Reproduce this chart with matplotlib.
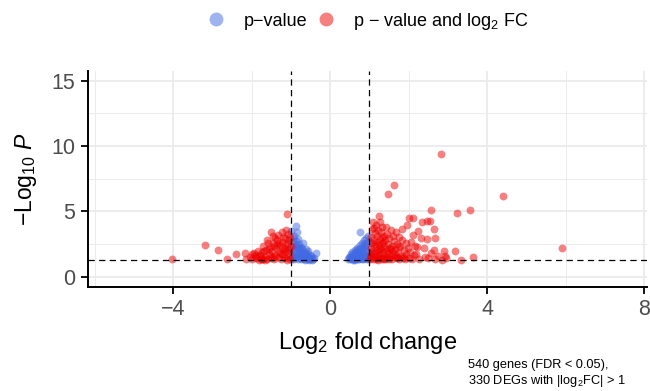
import matplotlib.pyplot as plt
import numpy as np
from matplotlib.lines import Line2D

# 字体设置（类似 Helvetica）
plt.rcParams['font.family'] = ['Liberation Sans', 'DejaVu Sans']
plt.rcParams['mathtext.fontset'] = 'custom'
plt.rcParams['mathtext.rm'] = 'Liberation Sans'
plt.rcParams['mathtext.it'] = 'Liberation Sans:italic'

# 下调基因 log2FC < -1
down_lfc = [-2.15, -2.05, -1.98, -1.92, -1.88, -1.82, -1.78, -1.74, -1.70, -1.66, -1.63, -1.60,
            -1.57, -1.54, -1.51, -1.48, -1.45, -1.43, -1.40, -1.38, -1.36, -1.34, -1.32, -1.30,
            -1.28, -1.26, -1.24, -1.22, -1.20, -1.18, -1.16, -1.15, -1.13, -1.11, -1.10, -1.08,
            -1.07, -1.05, -1.04, -1.02, -1.01, -1.95, -1.85, -1.72, -1.58, -1.46, -1.42, -1.27,
            -1.19, -1.12, -1.06, -1.03, -1.65, -1.52, -1.35, -1.24, -1.14, -1.89, -2.00, -1.77,
            -1.69, -1.56, -1.44, -1.31, -1.21, -1.09, -1.60, -1.40, -1.79, -1.75,
            -1.09, -1.51, -2.17, -2.39, -2.62, -2.86, -3.19, -4.03]
down_nlp = [1.38, 1.52, 1.36, 1.70, 1.45, 1.33, 1.62, 1.88, 1.41, 1.55, 2.05, 1.34,
            1.78, 2.30, 1.47, 1.95, 2.62, 1.36, 1.68, 2.18, 2.85, 1.50, 3.20, 1.92,
            2.45, 1.38, 2.70, 1.72, 3.05, 2.25, 1.45, 2.95, 1.98, 2.55, 1.33, 3.30,
            1.62, 2.10, 2.80, 1.40, 2.40, 1.85, 2.02, 2.35, 2.58, 3.10, 1.55, 1.85,
            1.52, 3.55, 1.85, 3.05, 1.32, 1.62, 2.42, 3.40, 2.15, 1.55, 1.72, 1.38,
            1.95, 2.12, 2.35, 2.62, 2.05, 2.62, 2.80, 3.00, 1.68, 1.35,
            4.81, 3.46, 1.81, 1.73, 1.35, 2.06, 2.44, 1.35]

# 左侧 -1 < log2FC < 0
left_lfc = [-0.98, -0.97, -0.96, -0.95, -0.93, -0.92, -0.91, -0.90, -0.88, -0.87, -0.86, -0.85,
            -0.84, -0.82, -0.81, -0.80, -0.79, -0.77, -0.76, -0.75, -0.73, -0.72, -0.70, -0.69,
            -0.67, -0.66, -0.64, -0.62, -0.60, -0.58, -0.56, -0.54, -0.52, -0.50, -0.48, -0.45,
            -0.42, -0.35, -0.94, -0.89, -0.83, -0.78, -0.71, -0.65, -0.57, -0.99, -0.97, -0.74,
            -0.63, -0.53, -0.92, -0.86, -0.80, -0.74, -0.68, -0.61, -0.55, -0.47]
left_nlp = [1.40, 2.10, 2.65, 1.65, 3.10, 1.35, 2.40, 1.85, 3.92, 2.75, 1.50, 2.20,
            3.40, 2.88, 1.38, 1.95, 2.50, 1.60, 2.30, 1.34, 2.05, 1.75, 1.45, 2.60,
            1.90, 1.36, 1.62, 2.15, 1.40, 1.80, 1.52, 1.33, 1.68, 1.42, 1.58, 1.36,
            1.48, 1.81, 2.95, 1.52, 1.72, 1.44, 2.18, 1.78, 1.96, 3.50, 1.55, 1.55,
            1.32, 1.38, 2.05, 2.45, 2.20, 1.85, 1.55, 1.70, 1.45, 1.32]

# 右侧 0 < log2FC < 1
right_lfc = [0.45, 0.48, 0.50, 0.52, 0.54, 0.56, 0.58, 0.60, 0.62, 0.63, 0.65, 0.67,
             0.68, 0.70, 0.72, 0.73, 0.75, 0.76, 0.77, 0.78, 0.80, 0.81, 0.82, 0.84,
             0.85, 0.87, 0.88, 0.89, 0.90, 0.91, 0.92, 0.93, 0.94, 0.95, 0.96, 0.97,
             0.98, 0.99, 0.55, 0.66, 0.74, 0.83, 0.86, 0.71, 0.61, 0.79, 0.95, 0.64,
             0.57, 0.69, 0.90, 0.84, 0.78, 0.72, 0.66, 0.59, 0.51]
right_nlp = [1.38, 1.55, 1.35, 1.72, 1.45, 1.90, 1.33, 1.62, 2.05, 1.40, 1.80, 2.25,
             1.52, 1.36, 2.10, 1.70, 2.45, 1.45, 3.46, 1.95, 1.34, 2.60, 1.60, 2.20,
             1.42, 2.85, 1.78, 2.40, 1.35, 2.05, 2.95, 1.55, 2.62, 1.88, 1.40, 2.30,
             2.75, 1.65, 1.60, 1.42, 1.35, 1.85, 2.50, 1.88, 1.48, 2.20, 3.10, 1.32,
             1.40, 1.65, 1.62, 1.40, 1.70, 1.50, 1.95, 1.75, 1.52]

# 上调基因 log2FC > 1
up_lfc = [1.02, 1.03, 1.04, 1.05, 1.06, 1.07, 1.08, 1.09, 1.10, 1.11, 1.12, 1.13,
          1.14, 1.15, 1.16, 1.17, 1.18, 1.19, 1.20, 1.21, 1.22, 1.23, 1.24, 1.25,
          1.26, 1.27, 1.28, 1.29, 1.30, 1.31, 1.32, 1.33, 1.34, 1.35, 1.36, 1.37,
          1.38, 1.40, 1.41, 1.42, 1.44, 1.45, 1.46, 1.47, 1.48, 1.50, 1.51, 1.52,
          1.54, 1.55, 1.57, 1.58, 1.60, 1.62, 1.63, 1.64, 1.66, 1.67, 1.69, 1.70,
          1.72, 1.74, 1.76, 1.78, 1.80, 1.82, 1.84, 1.85, 1.87, 1.90, 1.92, 1.94,
          1.96, 1.98, 2.00, 2.00, 2.03, 2.06, 2.08, 2.10, 2.12, 2.14, 2.16, 2.19,
          2.22, 2.23, 2.26, 2.30, 2.35, 2.39, 2.42, 2.46, 2.46, 2.50, 2.54, 2.56,
          2.58, 2.64, 2.64, 2.66, 2.68, 2.75, 2.81, 2.85, 2.90, 2.92, 2.96, 3.18,
          3.22, 3.34, 3.57, 3.63, 4.40, 5.91,
          1.05, 1.15, 1.25, 1.35, 1.45, 1.55, 1.65, 1.75, 1.12, 1.22, 1.32, 1.42,
          1.06, 1.19, 1.28, 1.38, 1.52, 1.60, 1.70, 1.88]
up_nlp = [1.40, 2.20, 3.05, 1.65, 2.60, 3.70, 1.35, 4.22, 1.95, 2.85, 1.50, 3.35,
          2.35, 1.80, 3.95, 1.38, 2.70, 2.05, 3.15, 1.58, 3.59, 4.66, 2.45, 1.42,
          4.22, 2.90, 1.75, 3.45, 2.15, 1.36, 2.60, 3.80, 1.90, 1.48, 3.10, 2.35,
          1.62, 2.80, 1.34, 2.10, 3.30, 1.55, 6.34, 2.50, 1.85, 1.40, 2.95, 2.20,
          1.68, 3.60, 1.37, 2.40, 1.95, 7.02, 2.75, 1.52, 2.15, 3.41, 1.43, 2.55,
          1.80, 3.05, 1.35, 2.30, 1.62, 2.85, 3.66, 1.48, 2.05, 1.38, 2.60, 1.75,
          3.97, 2.25, 4.53, 1.47, 1.90, 2.70, 1.40, 3.20, 4.53, 1.65, 2.40, 1.76,
          2.26, 3.54, 1.38, 2.95, 4.17, 2.19, 1.55, 4.25, 2.88, 1.45, 4.25, 5.11,
          1.85, 3.69, 2.06, 2.95, 1.35, 1.60, 9.36, 1.32, 2.01, 1.60, 1.43, 2.01,
          4.86, 1.33, 5.11, 1.55, 6.16, 2.24,
          1.50, 2.55, 2.00, 2.65, 1.95, 2.10, 1.75, 2.40, 3.75, 1.32, 3.05, 3.85,
          1.85, 1.45, 2.25, 1.35, 1.55, 3.10, 1.55, 1.55]

lfc = np.array(down_lfc + left_lfc + right_lfc + up_lfc)
nlp = np.array(down_nlp + left_nlp + right_nlp + up_nlp)

fc_cutoff = 1.0
p_cutoff = 0.05
big_fc = np.abs(lfc) > fc_cutoff

fig = plt.figure(figsize=(6.5, 3.91), dpi=100)
ax = fig.add_axes([0.1354, 0.2665, 0.86, 0.5527])

blue = '#4169E1'
red = '#EE0000'
ax.scatter(lfc[~big_fc], nlp[~big_fc], s=32, color=blue, alpha=0.5, linewidths=0, zorder=3)
ax.scatter(lfc[big_fc], nlp[big_fc], s=32, color=red, alpha=0.5, linewidths=0, zorder=3)

# 阈值虚线
for v in (-fc_cutoff, fc_cutoff):
    ax.axvline(v, color='black', lw=0.9, dashes=(5, 3.5), zorder=4)
ax.axhline(-np.log10(p_cutoff), color='black', lw=0.9, dashes=(5, 3.5), zorder=4)

ax.set_xlim(-6.17, 8.07)
ax.set_ylim(-0.75, 15.75)
ax.set_xticks([-4, 0, 4, 8])
ax.set_xticklabels(['\u22124', '0', '4', '8'])
ax.set_xticks([-6, -2, 2, 6], minor=True)
ax.set_yticks([0, 5, 10, 15])
ax.set_yticks([2.5, 7.5, 12.5], minor=True)

ax.grid(which='major', color='#EBEBEB', lw=1.3)
ax.grid(which='minor', color='#EBEBEB', lw=0.7)
ax.set_axisbelow(True)

for s in ('top', 'right'):
    ax.spines[s].set_visible(False)
for s in ('left', 'bottom'):
    ax.spines[s].set_linewidth(1.4)
    ax.spines[s].set_color('black')

ax.tick_params(which='major', labelsize=15.5, labelcolor='#4D4D4D', length=5, width=1.3,
               color='black', pad=4)
ax.tick_params(which='minor', length=0)

ax.set_xlabel('Log$_2$ fold change', fontsize=17, labelpad=7)
ax.set_ylabel('$-$Log$_{10}$ $P$', fontsize=16.5, labelpad=9)

handles = [Line2D([], [], ls='none', marker='o', ms=10, mew=0, color=blue, alpha=0.5),
           Line2D([], [], ls='none', marker='o', ms=10, mew=0, color=red, alpha=0.5)]
labels = ['p\u2212value', 'p \u2212 value and log$_2$ FC']
fig.legend(handles, labels, loc='center', bbox_to_anchor=(0.559, 0.946), ncol=2,
           frameon=False, fontsize=13, handletextpad=0.5, columnspacing=0.05)

fig.text(0.72, 0.005, '540 genes (FDR < 0.05),\n330 DEGs with |log$_2$FC| > 1',
         fontsize=9.2, ha='left', va='bottom', linespacing=1.2)

fig.savefig('out.png', dpi=100)
